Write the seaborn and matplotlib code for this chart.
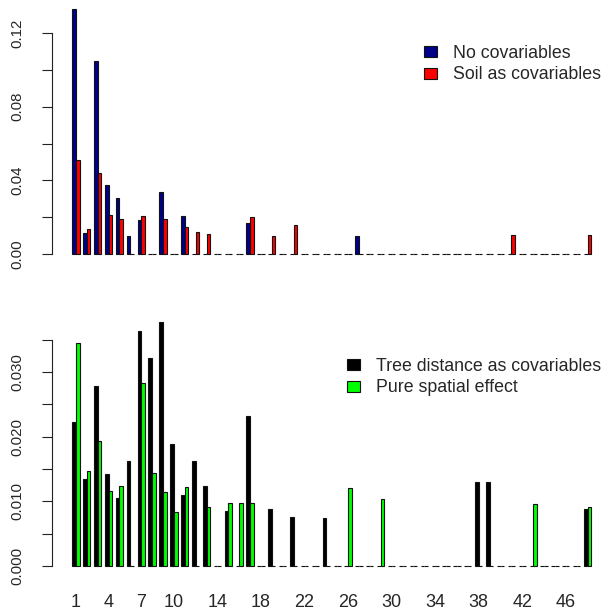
import numpy as np
import pandas as pd
import matplotlib
matplotlib.use("Agg")
import matplotlib.pyplot as plt
import seaborn as sns
from matplotlib.patches import Patch

# Categories 1..48 (frequency of each rank)
categories = list(range(1, 49))

# Upper panel: non-zero frequencies per category
no_covariables = {1: 0.1331, 2: 0.0116, 3: 0.1049, 4: 0.0374, 5: 0.0306, 6: 0.0098,
                  7: 0.0185, 9: 0.0336, 11: 0.0208, 17: 0.0170, 27: 0.0098}
soil_covariables = {1: 0.0511, 2: 0.0134, 3: 0.0442, 4: 0.0212, 5: 0.0189, 7: 0.0208,
                    9: 0.0189, 11: 0.0145, 12: 0.0121, 13: 0.0109, 17: 0.0201,
                    19: 0.0098, 21: 0.0158, 41: 0.0103, 48: 0.0103}

# Lower panel: non-zero frequencies per category
tree_distance = {1: 0.02235, 2: 0.01343, 3: 0.02792, 4: 0.01429, 5: 0.01048, 6: 0.01631,
                 7: 0.03639, 8: 0.03221, 9: 0.03779, 10: 0.01889, 11: 0.0110, 12: 0.01631,
                 13: 0.01244, 15: 0.00856, 17: 0.02323, 19: 0.00887, 21: 0.00763,
                 24: 0.00748, 38: 0.01306, 39: 0.01306, 48: 0.00878}
pure_spatial = {1: 0.03458, 2: 0.01476, 3: 0.01941, 4: 0.01166, 5: 0.01239, 7: 0.02829,
                8: 0.01445, 9: 0.01151, 10: 0.00836, 11: 0.01219, 13: 0.00918, 15: 0.00976,
                16: 0.00976, 17: 0.00976, 26: 0.01208, 29: 0.01042, 43: 0.0096, 48: 0.00918}

top_labels = ["No covariables", "Soil as covariables"]
top_colors = ["#00008B", "#FF0000"]
bottom_labels = ["Tree distance as covariables", "Pure spatial effect"]
bottom_colors = ["#000000", "#00FF00"]

xtick_labels = [1, 4, 7, 10, 14, 18, 22, 26, 30, 34, 38, 42, 46]


def long_frame(series_a, series_b, names):
    rows = []
    for name, series in zip(names, (series_a, series_b)):
        for c in categories:
            rows.append({"category": c, "value": series.get(c, 0.0), "model": name})
    return pd.DataFrame(rows)


sns.set_style("white")
plt.rcParams["font.family"] = ["Liberation Sans", "DejaVu Sans"]

W, H = 610, 614
fig = plt.figure(figsize=(W / 100, H / 100), dpi=100)
ax1 = fig.add_axes([51.5 / W, (H - 266.3) / H, 560.5 / W, 267.3 / H])
ax2 = fig.add_axes([51.5 / W, 35.7 / H, 560.5 / W, 266.3 / H])

panels = [
    (ax1, long_frame(no_covariables, soil_covariables, top_labels), top_labels, top_colors,
     (-0.0067, 0.1385), np.arange(0, 0.1201, 0.02), ["0.00", "", "0.04", "", "0.08", "", "0.12"]),
    (ax2, long_frame(tree_distance, pure_spatial, bottom_labels), bottom_labels, bottom_colors,
     (-0.0019, 0.0393), np.arange(0, 0.03501, 0.005),
     ["0.000", "", "0.010", "", "0.020", "", "0.030", ""]),
]

for ax, df, names, colors, ylim, yticks, ylabels in panels:
    sns.barplot(data=df, x="category", y="value", hue="model", order=categories,
                hue_order=names, palette=colors, saturation=1, width=2 / 3,
                edgecolor="#111111", linewidth=0.8, errorbar=None, legend=False, ax=ax)
    ax.set_xlim(-2.24, 49.24)
    ax.set_ylim(*ylim)
    ax.set_xlabel("")
    ax.set_ylabel("")
    for side in ("top", "right", "bottom"):
        ax.spines[side].set_visible(False)
    ax.spines["left"].set_bounds(yticks[0], yticks[-1])
    ax.spines["left"].set_linewidth(0.8)
    ax.spines["left"].set_color("#222222")
    ax.set_yticks(yticks)
    ax.set_yticklabels(ylabels)
    ax.tick_params(axis="y", left=True, length=7.2, width=0.8, color="#222222",
                   pad=12, labelsize=10.8, labelrotation=90)
    for lbl in ax.get_yticklabels():
        lbl.set_va("center")
    ax.tick_params(axis="x", length=0)

ax1.set_xticks([])
ax2.set_xticks([c - 1 for c in xtick_labels])
ax2.set_xticklabels([str(c) for c in xtick_labels])
ax2.tick_params(axis="x", length=0, pad=11, labelsize=13)

legend_kw = dict(frameon=False, loc="upper left", fontsize=12.8, borderpad=0,
                 borderaxespad=0, handlelength=0.75, handleheight=0.6,
                 handletextpad=0.9, labelspacing=0.25,
                 bbox_transform=fig.transFigure)

h_top = [Patch(facecolor=c, edgecolor="#111111", linewidth=0.8) for c in top_colors]
ax1.legend(h_top, top_labels, bbox_to_anchor=(424 / W, 1 - 45 / H), **legend_kw)

h_bot = [Patch(facecolor=c, edgecolor="#111111", linewidth=0.8) for c in bottom_colors]
ax2.legend(h_bot, bottom_labels, bbox_to_anchor=(347 / W, 1 - 358 / H), **legend_kw)

fig.savefig("out.png", dpi=100)
